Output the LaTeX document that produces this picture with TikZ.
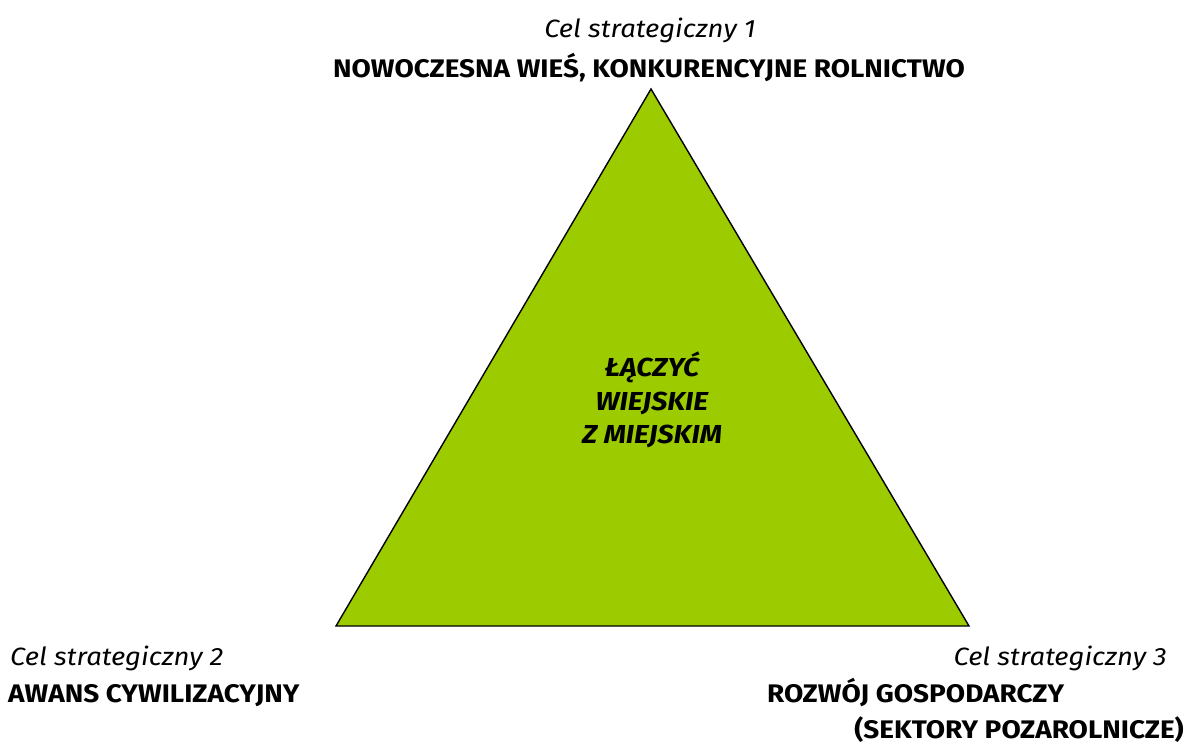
\documentclass[tikz,border=0pt]{standalone}
\usepackage{fontspec}
\setmainfont{Fira Sans}[FakeStretch=1.1]
\definecolor{tri}{HTML}{9CCB00}
\begin{document}
\begin{tikzpicture}[x=1pt,y=-1pt,
  lab/.style={inner sep=0pt,anchor=base,font=\fontsize{25}{30}\selectfont\itshape},
  head/.style={inner sep=0pt,anchor=base,font=\fontsize{25.4}{30}\selectfont\bfseries},
  mid/.style={inner sep=0pt,anchor=base,font=\fontsize{26}{30}\selectfont\bfseries\itshape}]
\useasboundingbox (0,0) rectangle (1191,747);
\coordinate (A) at (651,89);
\coordinate (B) at (336,626);
\coordinate (C) at (969,626);
\draw[fill=tri,line width=1.4pt,line join=miter] (A) -- (B) -- (C) -- cycle;
\node[mid] (m1) at (652,376) {ŁĄCZYĆ};
\node[mid] (m2) at (652,410) {WIEJSKIE};
\node[mid] (m3) at (652,443) {Z MIEJSKIM};
\node[lab] (c1) at (650,37) {Cel strategiczny 1};
\node[head] (h1) at (649,77) {NOWOCZESNA WIEŚ, KONKURENCYJNE ROLNICTWO};
\node[lab,anchor=base west] (c2) at (10,665) {Cel strategiczny 2};
\node[head,anchor=base west] (h2) at (8,702) {AWANS CYWILIZACYJNY};
\node[lab,anchor=base east] (c3) at (1167,665) {Cel strategiczny 3};
\node[head,anchor=base west] (h3) at (767,702) {ROZWÓJ GOSPODARCZY};
\node[head,anchor=base east] (h4) at (1184,738) {(SEKTORY POZAROLNICZE)};
\end{tikzpicture}
\end{document}
